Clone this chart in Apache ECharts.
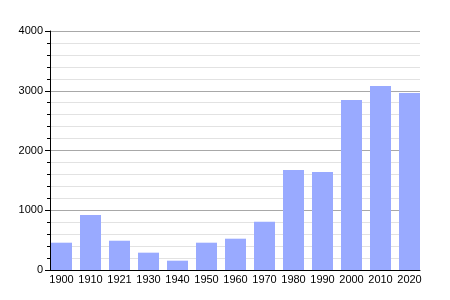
<!DOCTYPE html>
<html><head><meta charset="utf-8">
<script src="https://cdn.jsdelivr.net/npm/echarts@6/dist/echarts.min.js"></script>
<style>html,body{margin:0;padding:0;background:#fff}#c{width:450px;height:300px}</style>
</head><body><div id="c"></div>
<script>
var categories = ['1900','1910','1921','1930','1940','1950','1960','1970','1980','1990','2000','2010','2020'];
var population = [457, 920, 490, 290, 156, 457, 524, 809, 1674, 1640, 2845, 3080, 2962];
var yTicks = [0, 1000, 2000, 3000, 4000];

var chart = echarts.init(document.getElementById('c'), null, {renderer: 'canvas'});
var font = 'Liberation Sans, Arial, sans-serif';
chart.setOption({
  animation: false,
  grid: [
    {left: 50, right: 30, top: 31, bottom: 30, containLabel: false},
    {left: 47, width: 377, top: 31, bottom: 30, containLabel: false}
  ],
  xAxis: [
    {gridIndex: 0, type: 'category', data: categories,
     axisLine: {lineStyle: {color: '#000', width: 1}}, axisTick: {show: false},
     axisLabel: {show: false}, splitLine: {show: false}, z: 5},
    {gridIndex: 1, type: 'category', data: categories,
     axisLine: {show: false}, axisTick: {show: false},
     axisLabel: {color: '#000', fontSize: 11, fontFamily: font, margin: 4, interval: 0}}
  ],
  yAxis: [
    {gridIndex: 0, type: 'value', min: yTicks[0], max: yTicks[yTicks.length-1], interval: 1000,
     axisLine: {show: true, lineStyle: {color: '#000', width: 1}},
     axisTick: {show: true, length: 5, lineStyle: {color: '#000'}},
     minorTick: {show: true, splitNumber: 5, length: 3, lineStyle: {color: '#000'}},
     axisLabel: {color: '#000', fontSize: 11, fontFamily: font, margin: 7,
                 formatter: function (v) { return String(v); }},
     splitLine: {show: true, lineStyle: {color: '#a8a8a8', width: 1}},
     minorSplitLine: {show: true, lineStyle: {color: '#e2e2e2', width: 1}}},
    {gridIndex: 1, type: 'value', min: yTicks[0], max: yTicks[yTicks.length-1], show: false}
  ],
  series: [{
    type: 'bar', xAxisIndex: 1, yAxisIndex: 1, data: population,
    barWidth: 21, itemStyle: {color: '#99aaff'}, z: 3
  }]
});
</script></body></html>
